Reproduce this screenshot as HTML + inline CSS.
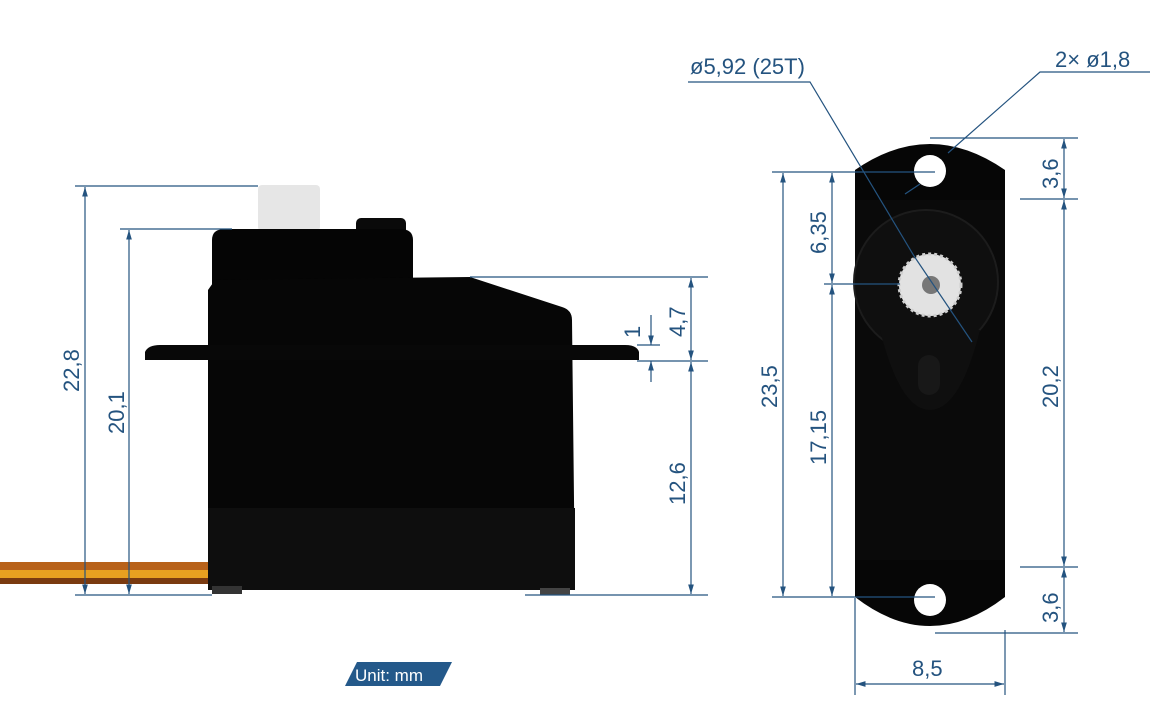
<!DOCTYPE html>
<html><head><meta charset="utf-8"><style>
html,body{margin:0;padding:0;background:#fff;width:1152px;height:727px;overflow:hidden}
svg text{font-family:"Liberation Sans",sans-serif;fill:#24537f;font-size:22px}
</style></head><body>
<svg width="1152" height="727" viewBox="0 0 1152 727" xmlns="http://www.w3.org/2000/svg">
<defs>
<marker id="a" viewBox="0 0 10 10" refX="10" refY="5" markerWidth="8" markerHeight="8" orient="auto-start-reverse"><path d="M0,2 L10,5 L0,8 z" fill="#24537f"/></marker>
</defs>
<!-- wire -->
<rect x="0" y="562" width="212" height="8" fill="#b8621a"/>
<rect x="0" y="570" width="212" height="8" fill="#e8a020"/>
<rect x="0" y="578" width="212" height="6" fill="#7a3a10"/>
<!-- side view servo -->
<rect x="258" y="185" width="62" height="46" rx="4" fill="#e6e6e6"/>
<rect x="356" y="218" width="50" height="20" rx="5" fill="#0a0a0a"/>
<path d="M212,240 Q212,229 225,229 L400,229 Q413,229 413,240 L413,285 L212,285 z" fill="#050505"/>
<path d="M208,290 L215,280 L470,277 L562,307 Q572,310 572,320 L575,590 L208,590 z" fill="#060606"/>
<path d="M145,352 Q148,345 160,345 L625,345 Q637,345 639,352 L639,360 L145,360 z" fill="#080808"/>
<rect x="208" y="508" width="367" height="82" fill="#0e0e0e"/>
<rect x="212" y="586" width="30" height="8" fill="#333"/>
<rect x="540" y="588" width="30" height="7" fill="#444"/>
<!-- left dims -->
<g stroke="#24537f" stroke-width="1.2" fill="none">
<line x1="75" y1="186" x2="258" y2="186"/>
<line x1="120" y1="229" x2="232" y2="229"/>
<line x1="75" y1="595" x2="212" y2="595"/>
<line x1="525" y1="595" x2="708" y2="595"/>
<line x1="470" y1="277" x2="708" y2="277"/>
<line x1="637" y1="361" x2="708" y2="361"/>
<line x1="637" y1="345" x2="660" y2="345"/>
<line x1="85" y1="187" x2="85" y2="594" marker-start="url(#a)" marker-end="url(#a)"/>
<line x1="129" y1="230" x2="129" y2="594" marker-start="url(#a)" marker-end="url(#a)"/>
<line x1="691" y1="278" x2="691" y2="360" marker-start="url(#a)" marker-end="url(#a)"/>
<line x1="691" y1="362" x2="691" y2="594" marker-start="url(#a)" marker-end="url(#a)"/>
<line x1="651" y1="315" x2="651" y2="345" marker-end="url(#a)"/>
<line x1="651" y1="382" x2="651" y2="361" marker-end="url(#a)"/>
</g>
<text transform="translate(79,392) rotate(-90)">22,8</text>
<text transform="translate(124,434) rotate(-90)">20,1</text>
<text transform="translate(685,337) rotate(-90)">4,7</text>
<text transform="translate(640,338) rotate(-90)">1</text>
<text transform="translate(685,505) rotate(-90)">12,6</text>
<!-- front view -->
<path d="M855,170 Q930,118 1005,170 L1005,597 Q930,655 855,597 z" fill="#060606"/>
<path d="M855,200 L1005,200 L1005,560 L855,560 z" fill="#0a0a0a"/>
<circle cx="926" cy="282" r="72" fill="#0f0f0f" stroke="#1c1c1c" stroke-width="2"/>
<path d="M880,330 Q900,410 930,410 Q960,410 980,330 z" fill="#0f0f0f"/>
<rect x="918" y="355" width="22" height="40" rx="11" fill="#181818"/>
<circle cx="930" cy="171" r="16" fill="#fff"/>
<circle cx="930" cy="600" r="16" fill="#fff"/>
<circle cx="930" cy="285" r="31" fill="#e2e2e2" stroke="#cfcfcf" stroke-width="3" stroke-dasharray="3 3"/>
<circle cx="931" cy="285" r="9" fill="#777"/>
<g stroke="#24537f" stroke-width="1.2" fill="none">
<line x1="772" y1="172" x2="935" y2="172"/>
<line x1="772" y1="597" x2="935" y2="597"/>
<line x1="824" y1="284" x2="900" y2="284"/>
<line x1="930" y1="138" x2="1078" y2="138"/>
<line x1="1020" y1="199" x2="1078" y2="199"/>
<line x1="1020" y1="567" x2="1078" y2="567"/>
<line x1="935" y1="633" x2="1078" y2="633"/>
<line x1="855" y1="598" x2="855" y2="695"/>
<line x1="1005" y1="630" x2="1005" y2="695"/>
<line x1="783" y1="173" x2="783" y2="596" marker-start="url(#a)" marker-end="url(#a)"/>
<line x1="832" y1="173" x2="832" y2="283" marker-start="url(#a)" marker-end="url(#a)"/>
<line x1="832" y1="285" x2="832" y2="596" marker-start="url(#a)" marker-end="url(#a)"/>
<line x1="1064" y1="139" x2="1064" y2="198" marker-start="url(#a)" marker-end="url(#a)"/>
<line x1="1064" y1="200" x2="1064" y2="566" marker-start="url(#a)" marker-end="url(#a)"/>
<line x1="1064" y1="568" x2="1064" y2="632" marker-start="url(#a)" marker-end="url(#a)"/>
<line x1="856" y1="684" x2="1004" y2="684" marker-start="url(#a)" marker-end="url(#a)"/>
<polyline points="688,82 810,82 914,256"/>
<line x1="914" y1="256" x2="972" y2="342"/>
<polyline points="1150,72 1040,72 948,153"/>
<line x1="905" y1="194" x2="920" y2="184"/>
</g>
<text transform="translate(777,408) rotate(-90)">23,5</text>
<text transform="translate(826,254) rotate(-90)">6,35</text>
<text transform="translate(826,465) rotate(-90)">17,15</text>
<text transform="translate(1058,189) rotate(-90)">3,6</text>
<text transform="translate(1058,408) rotate(-90)">20,2</text>
<text transform="translate(1058,623) rotate(-90)">3,6</text>
<text x="912" y="676">8,5</text>
<text x="690" y="74">ø5,92 (25T)</text>
<text x="1055" y="67">2× ø1,8</text>
<path d="M357,662 L452,662 L440,686 L345,686 z" fill="#24598a"/>
<text x="355" y="681" style="fill:#fff;font-size:17px">Unit: mm</text>
</svg>
</body></html>
